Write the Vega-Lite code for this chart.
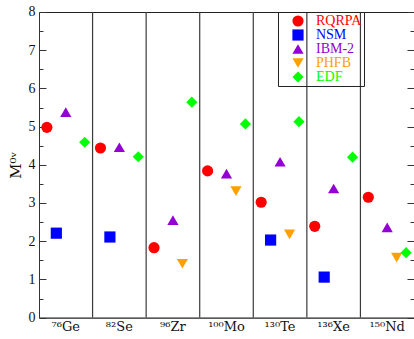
{
  "$schema": "https://vega.github.io/schema/vega-lite/v6.json",
  "width": 375,
  "height": 305.6,
  "autosize": "none",
  "padding": {"left": 39, "top": 12, "right": 0, "bottom": 21},
  "background": "white",
  "config": {"font": "Liberation Serif", "view": {"stroke": null}},
  "datasets": {
    "points": [
      {"nucleus": "⁷⁶Ge", "model": "RQRPA", "value": 4.98},
      {"nucleus": "⁷⁶Ge", "model": "NSM", "value": 2.21},
      {"nucleus": "⁷⁶Ge", "model": "IBM-2", "value": 5.38},
      {"nucleus": "⁷⁶Ge", "model": "EDF", "value": 4.59},
      {"nucleus": "⁸²Se", "model": "RQRPA", "value": 4.44},
      {"nucleus": "⁸²Se", "model": "NSM", "value": 2.11},
      {"nucleus": "⁸²Se", "model": "IBM-2", "value": 4.46},
      {"nucleus": "⁸²Se", "model": "EDF", "value": 4.21},
      {"nucleus": "⁹⁶Zr", "model": "RQRPA", "value": 1.83},
      {"nucleus": "⁹⁶Zr", "model": "IBM-2", "value": 2.55},
      {"nucleus": "⁹⁶Zr", "model": "PHFB", "value": 1.41},
      {"nucleus": "⁹⁶Zr", "model": "EDF", "value": 5.64},
      {"nucleus": "¹⁰⁰Mo", "model": "RQRPA", "value": 3.84},
      {"nucleus": "¹⁰⁰Mo", "model": "IBM-2", "value": 3.77},
      {"nucleus": "¹⁰⁰Mo", "model": "PHFB", "value": 3.31},
      {"nucleus": "¹⁰⁰Mo", "model": "EDF", "value": 5.07},
      {"nucleus": "¹³⁰Te", "model": "RQRPA", "value": 3.02},
      {"nucleus": "¹³⁰Te", "model": "NSM", "value": 2.03},
      {"nucleus": "¹³⁰Te", "model": "IBM-2", "value": 4.08},
      {"nucleus": "¹³⁰Te", "model": "PHFB", "value": 2.18},
      {"nucleus": "¹³⁰Te", "model": "EDF", "value": 5.13},
      {"nucleus": "¹³⁶Xe", "model": "RQRPA", "value": 2.39},
      {"nucleus": "¹³⁶Xe", "model": "NSM", "value": 1.06},
      {"nucleus": "¹³⁶Xe", "model": "IBM-2", "value": 3.38},
      {"nucleus": "¹³⁶Xe", "model": "EDF", "value": 4.2},
      {"nucleus": "¹⁵⁰Nd", "model": "RQRPA", "value": 3.15},
      {"nucleus": "¹⁵⁰Nd", "model": "IBM-2", "value": 2.36},
      {"nucleus": "¹⁵⁰Nd", "model": "PHFB", "value": 1.57},
      {"nucleus": "¹⁵⁰Nd", "model": "EDF", "value": 1.7}
    ],
    "separators": [
      {"nucleus": "⁸²Se"},
      {"nucleus": "⁹⁶Zr"},
      {"nucleus": "¹⁰⁰Mo"},
      {"nucleus": "¹³⁰Te"},
      {"nucleus": "¹³⁶Xe"},
      {"nucleus": "¹⁵⁰Nd"}
    ]
  },
  "layer": [
    {
      "data": {"name": "separators"},
      "mark": {"type": "rule", "color": "#3a3a3a", "strokeWidth": 1.2},
      "encoding": {
        "x": {
          "field": "nucleus",
          "type": "nominal",
          "bandPosition": 0,
          "scale": {"domain": ["⁷⁶Ge", "⁸²Se", "⁹⁶Zr", "¹⁰⁰Mo", "¹³⁰Te", "¹³⁶Xe", "¹⁵⁰Nd"], "paddingInner": 0, "paddingOuter": 0},
          "axis": {"orient": "top", "labels": false, "ticks": false, "title": null, "domainColor": "#222", "domainWidth": 1.2, "grid": false}
        },
        "y": {
          "datum": 0,
          "type": "quantitative",
          "scale": {"domain": [0, 8], "nice": false},
          "axis": {
            "orient": "right",
            "values": [0, 0.5, 1, 1.5, 2, 2.5, 3, 3.5, 4, 4.5, 5, 5.5, 6, 6.5, 7, 7.5, 8],
            "labels": false,
            "domain": false,
            "grid": false,
            "title": null,
            "tickColor": "#333",
            "tickSize": {"condition": {"test": "datum.value % 1 === 0", "value": -7}, "value": -4}
          }
        },
        "y2": {"datum": 8}
      }
    },
    {
      "data": {"name": "points"},
      "mark": {"type": "point", "filled": true, "opacity": 1, "size": 125},
      "encoding": {
        "x": {
          "field": "nucleus",
          "type": "nominal",
          "sort": ["⁷⁶Ge", "⁸²Se", "⁹⁶Zr", "¹⁰⁰Mo", "¹³⁰Te", "¹³⁶Xe", "¹⁵⁰Nd"],
          "axis": {
            "orient": "bottom",
            "title": null,
            "ticks": false,
            "labelAngle": 0,
            "labelFont": "DejaVu Serif",
            "labelFontSize": 13,
            "labelColor": "#111",
            "labelPadding": 3,
            "domainColor": "#222",
            "domainWidth": 1.2,
            "grid": false
          }
        },
        "xOffset": {
          "field": "model",
          "type": "nominal",
          "scale": {"domain": ["RQRPA", "NSM", "IBM-2", "PHFB", "EDF"], "paddingInner": 0, "paddingOuter": 0.833}
        },
        "y": {
          "field": "value",
          "type": "quantitative",
          "axis": {
            "orient": "left",
            "values": [0, 0.5, 1, 1.5, 2, 2.5, 3, 3.5, 4, 4.5, 5, 5.5, 6, 6.5, 7, 7.5, 8],
            "labelExpr": "datum.value % 1 === 0 ? format(datum.value, 'd') : ''",
            "labelFont": "Liberation Serif",
            "labelFontSize": 14,
            "labelColor": "#111",
            "labelPadding": 11,
            "grid": false,
            "domainColor": "#333",
            "tickColor": "#333",
            "tickSize": {"condition": {"test": "datum.value % 1 === 0", "value": -7}, "value": -4},
            "title": "M⁰ᵛ",
            "titleFont": "DejaVu Serif",
            "titleFontSize": 15,
            "titleFontWeight": "normal",
            "titleColor": "#111",
            "titlePadding": 5
          }
        },
        "color": {
          "field": "model",
          "type": "nominal",
          "scale": {"domain": ["RQRPA", "NSM", "IBM-2", "PHFB", "EDF"], "range": ["#ff0000", "#0000ff", "#9400d3", "#ffa000", "#00ff00"]},
          "legend": {
            "orient": "none",
            "legendX": 239,
            "legendY": 0,
            "title": null,
            "strokeColor": "#222",
            "padding": 2,
            "symbolOffset": 11,
            "symbolSize": 125,
            "symbolStrokeWidth": 0,
            "labelOffset": 11,
            "labelFontSize": 14,
            "labelFont": "Liberation Serif",
            "labelColor": {"expr": "scale('color', datum.value)"},
            "rowPadding": 0
          }
        },
        "shape": {
          "field": "model",
          "type": "nominal",
          "scale": {"domain": ["RQRPA", "NSM", "IBM-2", "PHFB", "EDF"], "range": ["circle", "square", "triangle-up", "triangle-down", "diamond"]}
        }
      }
    }
  ],
  "resolve": {"axis": {"x": "independent", "y": "independent"}}
}
